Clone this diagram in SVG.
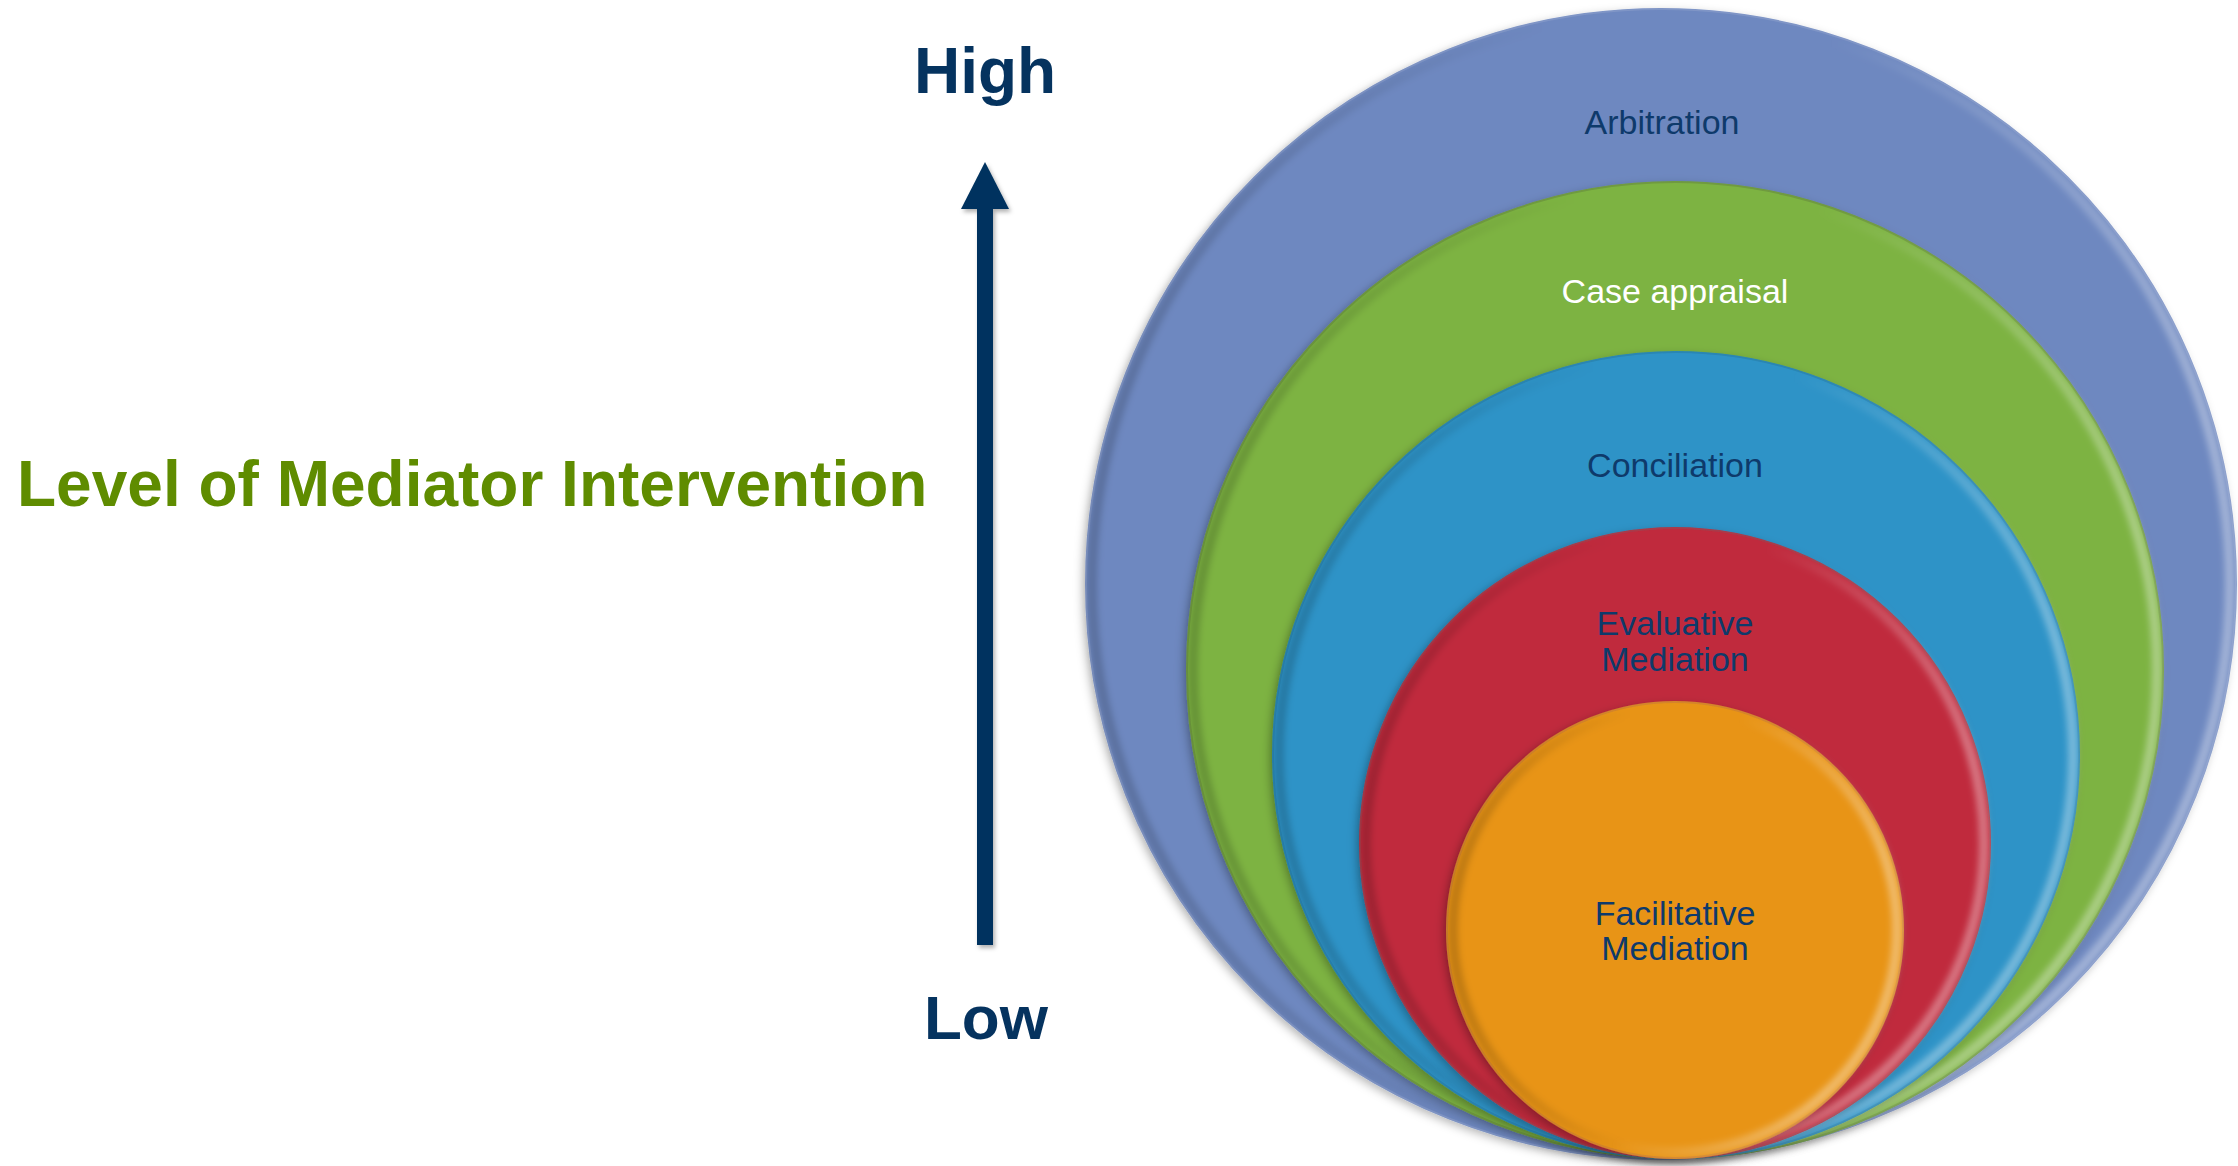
<svg xmlns="http://www.w3.org/2000/svg" width="2238" height="1166" viewBox="0 0 2238 1166">
  <style>
    .lbl { font-family: "Liberation Sans", Arial, sans-serif; font-size: 34px; fill: #0e3a6b; text-anchor: middle; }
    .lblw { fill: #ffffff; }
    .axis { font-family: "Liberation Sans", Arial, sans-serif; font-weight: bold; fill: #05335f; text-anchor: middle; }
    .title { font-family: "Liberation Sans", Arial, sans-serif; font-weight: bold; font-size: 64px; fill: #5f8c00; }
    .rim { fill: none; stroke-width: 10; filter: url(#soft); }
  </style>
  <defs>
    <filter id="shadow" x="-10%" y="-10%" width="120%" height="120%">
      <feDropShadow dx="-3" dy="3" stdDeviation="4" flood-color="#000" flood-opacity="0.25"/>
    </filter>
    <filter id="soft" x="-10%" y="-10%" width="120%" height="120%">
      <feGaussianBlur stdDeviation="3"/>
    </filter>
    <filter id="arrowShadow" x="-50%" y="-10%" width="200%" height="120%">
      <feDropShadow dx="2" dy="3" stdDeviation="2" flood-color="#000" flood-opacity="0.3"/>
    </filter>
    <linearGradient id="hl" x1="0" y1="0" x2="1" y2="0.3">
      <stop offset="0" stop-color="#ffffff" stop-opacity="0"/>
      <stop offset="0.6" stop-color="#ffffff" stop-opacity="0"/>
      <stop offset="1" stop-color="#ffffff" stop-opacity="0.35"/>
    </linearGradient>
    <linearGradient id="dk" x1="0" y1="0" x2="1" y2="0">
      <stop offset="0" stop-color="#000000" stop-opacity="0.18"/>
      <stop offset="0.4" stop-color="#000000" stop-opacity="0"/>
      <stop offset="1" stop-color="#000000" stop-opacity="0"/>
    </linearGradient>
  </defs>

  <rect width="2238" height="1166" fill="#ffffff"/>

  <text class="title" x="17" y="506">Level of Mediator Intervention</text>

  <g id="connectors">
    <g filter="url(#arrowShadow)">
      <rect x="977" y="205" width="16" height="740" fill="#05335f"/>
      <polygon points="985,162 1009,209 961,209" fill="#05335f"/>
    </g>
  </g>

  <g id="high"><text class="axis" x="985" y="93" font-size="64">High</text></g>
  <g id="low"><text class="axis" x="986" y="1039" font-size="62">Low</text></g>

  <g id="arbitration">
    <circle cx="1661" cy="584" r="575" fill="#6e88c0" stroke="#7f95c6" stroke-width="2" filter="url(#shadow)"/>
    <circle class="rim" cx="1661" cy="584" r="569" stroke="url(#hl)"/>
    <circle class="rim" cx="1661" cy="584" r="569" stroke="url(#dk)"/>
    <text class="lbl" x="1662" y="134">Arbitration</text>
  </g>

  <g id="case-appraisal">
    <circle cx="1675" cy="670" r="488" fill="#7db342" stroke="#6f9a40" stroke-width="2" filter="url(#shadow)"/>
    <circle class="rim" cx="1675" cy="670" r="482" stroke="url(#hl)"/>
    <circle class="rim" cx="1675" cy="670" r="482" stroke="url(#dk)"/>
    <text class="lbl lblw" x="1675" y="303">Case appraisal</text>
  </g>

  <g id="conciliation">
    <circle cx="1676" cy="755" r="403" fill="#2f93c7" stroke="#2a86b3" stroke-width="2" filter="url(#shadow)"/>
    <circle class="rim" cx="1676" cy="755" r="397" stroke="url(#hl)"/>
    <circle class="rim" cx="1676" cy="755" r="397" stroke="url(#dk)"/>
    <text class="lbl" x="1675" y="477">Conciliation</text>
  </g>

  <g id="evaluative-mediation">
    <circle cx="1675" cy="843" r="315" fill="#c02a3c" stroke="#a93a4a" stroke-width="2" filter="url(#shadow)"/>
    <circle class="rim" cx="1675" cy="843" r="309" stroke="url(#hl)"/>
    <circle class="rim" cx="1675" cy="843" r="309" stroke="url(#dk)"/>
    <text class="lbl" x="1675" y="635">Evaluative</text>
    <text class="lbl" x="1675" y="671">Mediation</text>
  </g>

  <g id="facilitative-mediation">
    <circle cx="1675" cy="930" r="228" fill="#e89416" stroke="#d4852a" stroke-width="2" filter="url(#shadow)"/>
    <circle class="rim" cx="1675" cy="930" r="222" stroke="url(#hl)"/>
    <circle class="rim" cx="1675" cy="930" r="222" stroke="url(#dk)"/>
    <text class="lbl" x="1675" y="925">Facilitative</text>
    <text class="lbl" x="1675" y="960">Mediation</text>
  </g>
</svg>
